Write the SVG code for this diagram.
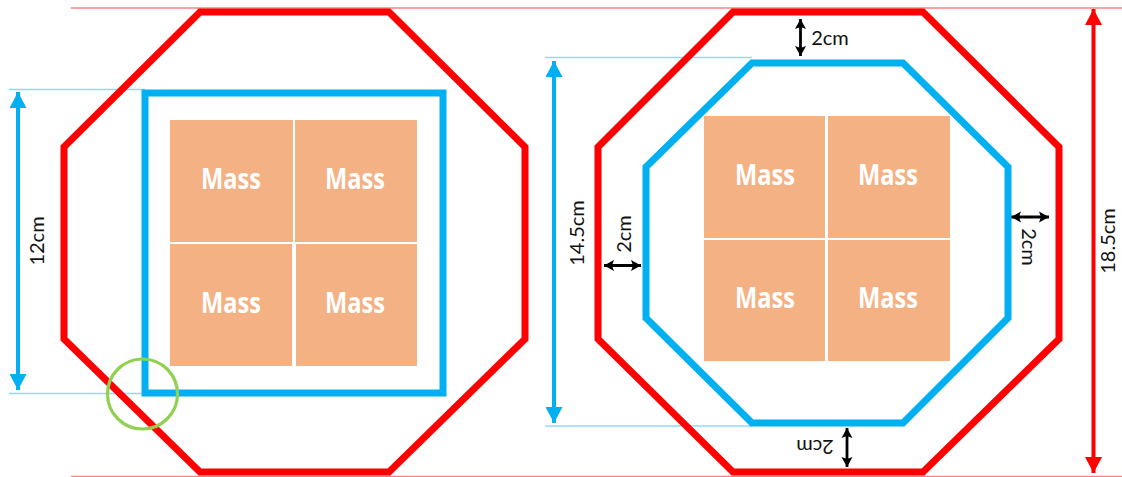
<svg xmlns="http://www.w3.org/2000/svg" width="1122" height="477" viewBox="0 0 1122 477">
<style>
.oct{fill:none;stroke-linejoin:miter;stroke-width:7}
.red{stroke:#ff0000}.blue{stroke:#00b0f0}
.mass{fill:#f4b183}
.mt{font:bold 28px "Open Sans","Liberation Sans",sans-serif;fill:#fff;text-anchor:middle}
.lb{font:20px Lato,"Liberation Sans",sans-serif;fill:#111;text-anchor:middle}
.thinb{stroke:#00b0f0;stroke-opacity:.45;stroke-width:1.3}
.thinr{stroke:#ff0000;stroke-opacity:.5;stroke-width:1.3}
.dim{stroke-width:4;fill:none}
.blk{stroke:#000;stroke-width:2.800;fill:none}
</style>
<defs>
<marker id="ab" markerUnits="userSpaceOnUse" markerWidth="18" markerHeight="17" refX="16" refY="8.5" orient="auto-start-reverse"><path d="M0 0L16 8.5L0 17Z" fill="#00b0f0"/></marker>
<marker id="ar" markerUnits="userSpaceOnUse" markerWidth="18" markerHeight="17" refX="16" refY="8.5" orient="auto-start-reverse"><path d="M0 0L16 8.5L0 17Z" fill="#ff0000"/></marker>
<marker id="ak" markerUnits="userSpaceOnUse" markerWidth="11" markerHeight="12" refX="10" refY="6" orient="auto-start-reverse"><path d="M0 0.500L10 6L0 11.500L2 6Z" fill="#000"/></marker>
</defs>
<g id="connectors">
<path class="thinr" d="M71 8H1122M71 476.500H1122"/>
<path class="thinb" d="M9 89.500H145M9 393.500H145M545 57.500H752M545 426H752"/>
<path class="dim blue" d="M18 92V390" marker-start="url(#ab)" marker-end="url(#ab)"/>
<path class="dim blue" d="M554 61V423" marker-start="url(#ab)" marker-end="url(#ab)"/>
<path class="dim red" d="M1093.500 9V473" marker-start="url(#ar)" marker-end="url(#ar)"/>
<path class="blk" d="M800.500 19V56" marker-start="url(#ak)" marker-end="url(#ak)"/>
<path class="blk" d="M847 428V467" marker-start="url(#ak)" marker-end="url(#ak)"/>
<path class="blk" d="M604 265.500H641" marker-start="url(#ak)" marker-end="url(#ak)"/>
<path class="blk" d="M1011 217H1049" marker-start="url(#ak)" marker-end="url(#ak)"/>
</g>
<g id="left-outer"><path class="oct red" d="M200 12H389L525 147V339L389 472H200L64 339V147Z"/></g>
<g id="left-inner"><rect class="oct blue" x="145" y="93" width="298" height="300"/></g>
<g id="left-masses">
<rect class="mass" x="170" y="120" width="123" height="122"/>
<rect class="mass" x="295" y="120" width="122" height="122"/>
<rect class="mass" x="170" y="244" width="122" height="122"/>
<rect class="mass" x="296" y="244" width="121" height="122"/>
<text class="mt" x="231" y="189" textLength="60" lengthAdjust="spacingAndGlyphs">Mass</text>
<text class="mt" x="355" y="189" textLength="60" lengthAdjust="spacingAndGlyphs">Mass</text>
<text class="mt" x="231" y="313" textLength="60" lengthAdjust="spacingAndGlyphs">Mass</text>
<text class="mt" x="355" y="313" textLength="60" lengthAdjust="spacingAndGlyphs">Mass</text>
</g>
<g id="circle"><circle cx="142.500" cy="394" r="35" fill="none" stroke="#92d050" stroke-width="3.200"/></g>
<g id="right-outer"><path class="oct red" d="M733 12H923L1059 147V339L923 472H733L598 339V147Z"/></g>
<g id="right-inner"><path class="oct blue" d="M752 63H903L1008 167V318L903 423H752L646 318V167Z"/></g>
<g id="right-masses">
<rect class="mass" x="704" y="116" width="121" height="122"/>
<rect class="mass" x="828" y="116" width="122" height="122"/>
<rect class="mass" x="704" y="240" width="121" height="121"/>
<rect class="mass" x="828" y="240" width="122" height="121"/>
<text class="mt" x="765" y="185" textLength="60" lengthAdjust="spacingAndGlyphs">Mass</text>
<text class="mt" x="888" y="185" textLength="60" lengthAdjust="spacingAndGlyphs">Mass</text>
<text class="mt" x="765" y="308" textLength="60" lengthAdjust="spacingAndGlyphs">Mass</text>
<text class="mt" x="888" y="308" textLength="60" lengthAdjust="spacingAndGlyphs">Mass</text>
</g>
<g id="labels">
<text class="lb" transform="translate(44 241) rotate(-90)">12cm</text>
<text class="lb" transform="translate(584 233) rotate(-90)">14.5cm</text>
<text class="lb" transform="translate(1115 241) rotate(-90)">18.5cm</text>
<text class="lb" transform="translate(631 234) rotate(-90)">2cm</text>
<text class="lb" transform="translate(1022 247) rotate(90)">2cm</text>
<text class="lb" x="830" y="45">2cm</text>
<text class="lb" transform="translate(815 440) rotate(180)">2cm</text>
</g>
</svg>
